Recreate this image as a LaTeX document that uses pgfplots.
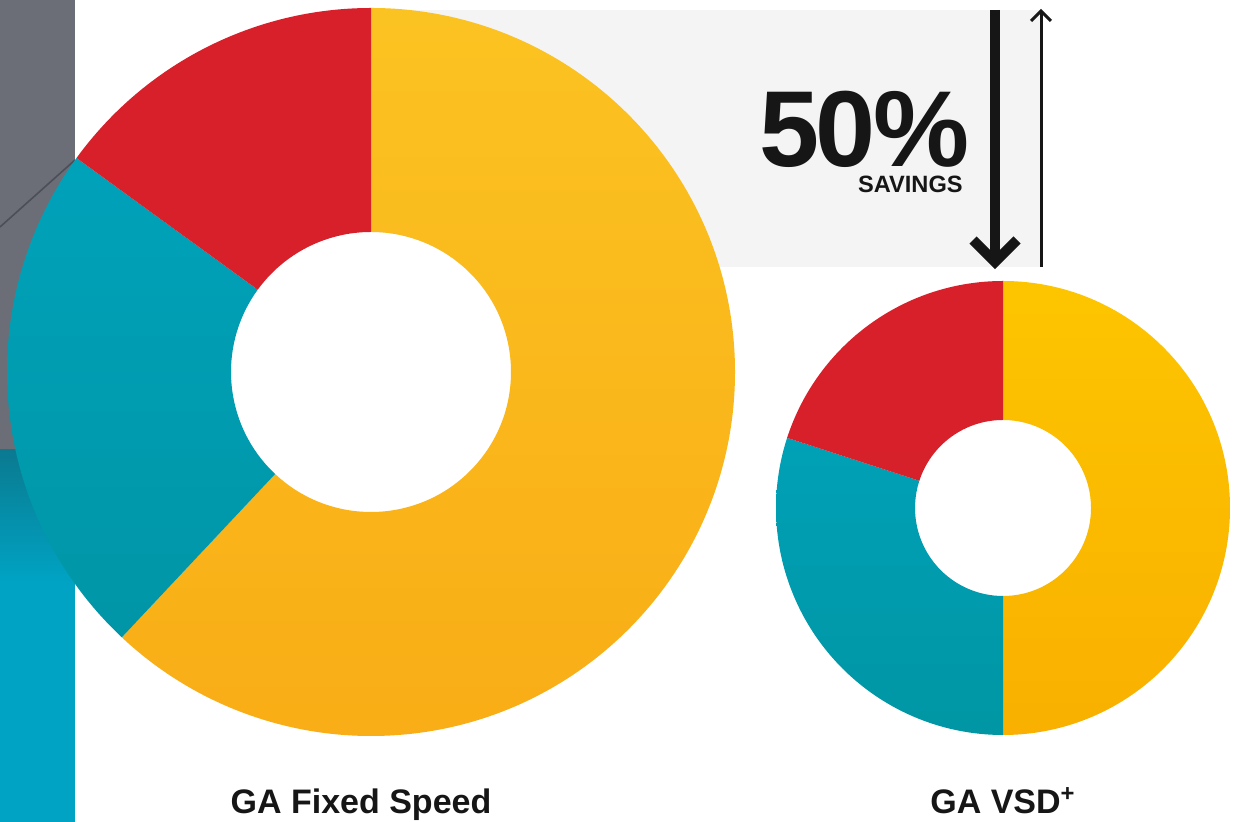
\documentclass[border=0pt]{standalone}
\usepackage{pgfplots}
\usepackage{pgfplotstable}
\pgfplotsset{compat=1.18}
\usepackage{fontspec}
\setmainfont{Liberation Sans}

% segment colours: L = GA Fixed Speed, R = GA VSD+ ; 0 yellow, 1 teal, 2 red
\definecolor{L0top}{HTML}{FBC321}
\definecolor{L0bot}{HTML}{F9AD16}
\definecolor{L1top}{HTML}{00A6C0}
\definecolor{L1bot}{HTML}{0093A2}
\definecolor{L2top}{HTML}{D8202A}
\definecolor{L2bot}{HTML}{D41F29}
\definecolor{R0top}{HTML}{FDC500}
\definecolor{R0bot}{HTML}{F9B000}
\definecolor{R1top}{HTML}{00A6C0}
\definecolor{R1bot}{HTML}{0096A4}
\definecolor{R2top}{HTML}{D8202A}
\definecolor{R2bot}{HTML}{D41F29}
\definecolor{panelgray}{HTML}{6B6E77}
\definecolor{panelline}{HTML}{4C4F57}
\definecolor{bandteal}{HTML}{00A3C4}
\definecolor{bandtealdark}{HTML}{0A7A90}
\definecolor{boxgray}{HTML}{F4F4F4}
\definecolor{ink}{HTML}{161616}

% share of each cost segment (percent), clockwise from 12 o'clock
\pgfplotstableread{
segment fixed vsd
Energy 62 50
Investment 23 30
Maintenance 15 20
}\piedata

% #1 column, #2 cx, #3 cy, #4 outer R, #5 inner r (pixel units), #6 colour prefix
\newcommand\drawdonut[6]{%
  \pgfmathsetmacro\dcx{#2}\pgfmathsetmacro\dcy{#3}%
  \pgfmathsetlengthmacro\dR{#4*0.5pt}%
  \pgfmathsetlengthmacro\dr{#5*0.5pt}%
  \pgfmathsetmacro\bx{#2-#4}\pgfmathsetmacro\by{#3-#4}%
  \pgfmathsetmacro\tx{#2+#4}\pgfmathsetmacro\ty{#3+#4}%
  \fill[white] (axis cs:\dcx,\dcy) circle[radius=\dr];%
  \def\angA{90}%
  \pgfplotsforeachungrouped \i in {0,1,2}{%
    \pgfplotstablegetelem{\i}{#1}\of\piedata
    \pgfmathsetmacro\angB{\angA-3.6*\pgfplotsretval}%
    \begin{scope}
      \clip ([shift={(axis cs:\dcx,\dcy)}]\angA:\dR) arc[start angle=\angA,end angle=\angB,radius=\dR]
        -- ([shift={(axis cs:\dcx,\dcy)}]\angB:\dr) arc[start angle=\angB,end angle=\angA,radius=\dr] -- cycle;
      \shade[top color=#6\i top,bottom color=#6\i bot] (axis cs:\bx,\by) rectangle (axis cs:\tx,\ty);
    \end{scope}%
    \let\angA\angB
  }%
}

\begin{document}
\begin{tikzpicture}
\begin{axis}[
  x=0.5pt, y=0.5pt,
  xmin=0, xmax=1240, ymin=0, ymax=822,
  hide axis, clip=false,
]
\pgfplotsextra{%
  \coordinate (BL) at (axis cs:0,0);%
  \coordinate (TR) at (axis cs:1240,822);%
  % background
  \fill[white] (axis cs:0,0) rectangle (axis cs:1240,822);%
  % left decorative strip
  \fill[panelgray] (axis cs:0,367) rectangle (axis cs:75,822);%
  \draw[panelline, line width=0.8pt] (axis cs:0,595) -- (axis cs:75,662);%
  \fill[bandteal] (axis cs:0,0) rectangle (axis cs:75,372);%
  \shade[top color=bandtealdark, bottom color=bandteal] (axis cs:0,240) rectangle (axis cs:75,372);%
  % light grey savings box
  \fill[boxgray] (axis cs:371,555) rectangle (axis cs:1040,812);%
  % donuts
  \drawdonut{fixed}{371}{450}{364}{140}{L}%
  \drawdonut{vsd}{1003}{314}{227}{88}{R}%
  % arrows
  \draw[ink, line width=5pt] (axis cs:995,812) -- (axis cs:995,566);%
  \draw[ink, line width=5pt, miter limit=4] (axis cs:973,582) -- (axis cs:995,560) -- (axis cs:1017,582);%
  \draw[ink, line width=1.5pt] (axis cs:1041,555) -- (axis cs:1041,811);%
  \draw[ink, line width=1.5pt] (axis cs:1031,801) -- (axis cs:1041,811) -- (axis cs:1051,801);%
  % texts
  \node[anchor=base west, inner sep=0pt, text depth=0pt, text=ink, font=\fontsize{54}{56}\selectfont\bfseries]
    at (axis cs:759,655) {5\kern-2.2pt0\kern-1pt\%};%
  \node[anchor=base east, inner sep=0pt, text=ink, font=\fontsize{11.8}{13}\selectfont\bfseries]
    at (axis cs:963,629) {SAVINGS};%
  \node[anchor=base, inner sep=0pt, text=ink, font=\fontsize{17}{19}\selectfont\bfseries]
    at (axis cs:361,8) {GA Fixed Speed};%
  \node[anchor=base, inner sep=0pt, text=ink, font=\fontsize{17}{19}\selectfont\bfseries]
    at (axis cs:1003,8) {GA VSD\textsuperscript{+}};%
}
\end{axis}
\pgfresetboundingbox
\useasboundingbox (BL) rectangle (TR);
\end{tikzpicture}
\end{document}
